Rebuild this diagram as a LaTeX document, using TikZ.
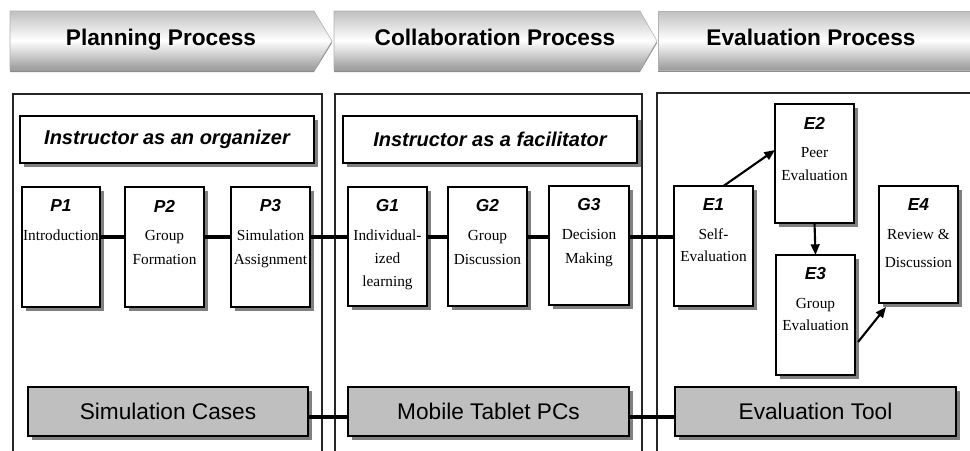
\documentclass[tikz,border=0pt]{standalone}
\usepackage{fontspec}
\setmainfont{Liberation Serif}
\setsansfont{Liberation Sans}
\usetikzlibrary{shadows,calc,arrows.meta}
\newcommand\mybox[8]{%
  \node[wbox, minimum width={(#4-#2)*0.75pt}, minimum height={(#5-#3)*0.75pt}] (#1) at ({(#2+#4)/2},{(#3+#5)/2}) {};
  \node[ttl] (#1-t) at ($(#1.north)+(0,19)$) {#6};
  \foreach \mytxt [count=\i] in {#7} \node[body] (#1-\i) at ($(#1.north)+(0,{50+#8*(\i-1)})$) {\mytxt};
}
\begin{document}
\begin{tikzpicture}[x=0.75pt,y=-0.75pt,
  chev/.style={draw=black!30, line width=0.4pt, top color=black!25, bottom color=black!40, middle color=white},
  chevsh/.style={fill=black!45},
  htxt/.style={font=\sffamily\bfseries\fontsize{17}{20}\selectfont, inner sep=0pt, text height=1.6ex, text depth=0ex},
  panel/.style={draw=black!85, line width=0.8pt},
  wbox/.style={draw=black, line width=1.1pt, fill=white, inner sep=0pt, outer sep=0pt,
    drop shadow={shadow xshift=3pt, shadow yshift=-3pt, fill=black!50, opacity=1}},
  gbox/.style={wbox, fill=black!25, font=\sffamily\fontsize{17}{20}\selectfont},
  rbox/.style={wbox, font=\sffamily\bfseries\itshape\fontsize{15}{18}\selectfont},
  ttl/.style={font=\sffamily\bfseries\itshape\fontsize{13}{15}\selectfont, inner sep=0pt},
  body/.style={font=\fontsize{11.5}{14}\selectfont, inner sep=0pt, text height=1.6ex, text depth=0.4ex},
  conn/.style={line width=2.3pt},
  arr/.style={line width=1.6pt, -{Triangle[length=8pt,width=6.5pt]}}
]
\useasboundingbox (0,0) rectangle (970,450);
\clip (0,0) rectangle (970,450);
\fill[white] (0,0) rectangle (970,450);

% header chevrons
\fill[chevsh] (10,13) -- (314,13) -- (332,43) -- (314,72) -- (10,72) -- cycle;
\fill[chevsh] (334,13) -- (640,13) -- (657,43) -- (640,72) -- (334,72) -- cycle;
\fill[chevsh] (658,13) -- (980,13) -- (980,72) -- (658,72) -- cycle;
\path[chev] (10,11) -- (314,11) -- (332,41) -- (314,70) -- (10,70) -- cycle;
\path[chev] (334,11) -- (640,11) -- (657,41) -- (640,70) -- (334,70) -- cycle;
\path[chev] (658,11) -- (980,11) -- (980,70) -- (658,70) -- cycle;
\node[htxt] (h1) at (161,41) {Planning Process};
\node[htxt] (h2) at (495,41) {Collaboration Process};
\node[htxt] (h3) at (811,41) {Evaluation Process};

% panels
\draw[panel] (13,94) rectangle (322,470);
\draw[panel] (335,94) rectangle (642,470);
\draw[panel] (657,93) rectangle (990,470);

% role boxes
\node[rbox, minimum width={294*0.75pt}, minimum height={47*0.75pt}] (r1) at (167,139.5) {Instructor as an organizer};
\node[rbox, minimum width={294*0.75pt}, minimum height={47*0.75pt}] (r2) at (490,139.5) {Instructor as a facilitator};

% step boxes
\mybox{p1}{22}{187}{100}{307}{P1}{Introduction}{24}
\mybox{p2}{125}{187}{204}{307}{P2}{Group,Formation}{24}
\mybox{p3}{231}{187}{310}{307}{P3}{Simulation,Assignment}{24}
\mybox{g1}{348}{187}{427}{306}{G1}{Individual-,ized,learning}{23}
\mybox{g2}{448}{187}{527}{306}{G2}{Group,Discussion}{24}
\mybox{g3}{549}{186}{629}{305}{G3}{Decision,Making}{24}
\mybox{e1}{674}{186}{753}{306}{E1}{Self-,Evaluation}{22}
\mybox{e2}{775}{104}{854}{223}{E2}{Peer,Evaluation}{23}
\mybox{e3}{776}{255}{855}{375}{E3}{Group,Evaluation}{22}
\mybox{e4}{879}{186}{958}{303}{E4}{Review \&,Discussion}{28}

% connectors
\draw[conn] ($(p1.north east)+(0,50)$) -- ($(p2.north west)+(0,50)$);
\draw[conn] ($(p2.north east)+(0,50)$) -- ($(p3.north west)+(0,50)$);
\draw[conn] ($(p3.north east)+(0,50)$) -- ($(g1.north west)+(0,50)$);
\draw[conn] ($(g1.north east)+(0,50)$) -- ($(g2.north west)+(0,50)$);
\draw[conn] ($(g2.north east)+(0,50)$) -- ($(g3.north west)+(0,51)$);
\draw[conn] ($(g3.north east)+(0,51)$) -- ($(e1.north west)+(0,51)$);
\draw[arr] ($(e1.north)+(10,0)$) -- ($(e2.north west)+(0,46)$);
\draw[arr] (e2.south) -- (e3.north);
\draw[arr] ($(e3.north east)+(3,87)$) -- ($(e4.south west)+(7,4)$);

% tool boxes
\node[gbox, minimum width={280*0.75pt}, minimum height={49*0.75pt}] (sc) at (168,411.5) {Simulation Cases};
\node[gbox, minimum width={281*0.75pt}, minimum height={49*0.75pt}] (mt) at (488.5,411.5) {Mobile Tablet PCs};
\node[gbox, minimum width={281*0.75pt}, minimum height={49*0.75pt}] (et) at (815.5,411.5) {Evaluation Tool};
\draw[conn] ($(sc.north east)+(0,30)$) -- ($(mt.north west)+(0,30)$);
\draw[conn] ($(mt.north east)+(0,30)$) -- ($(et.north west)+(0,30)$);
\end{tikzpicture}
\end{document}
